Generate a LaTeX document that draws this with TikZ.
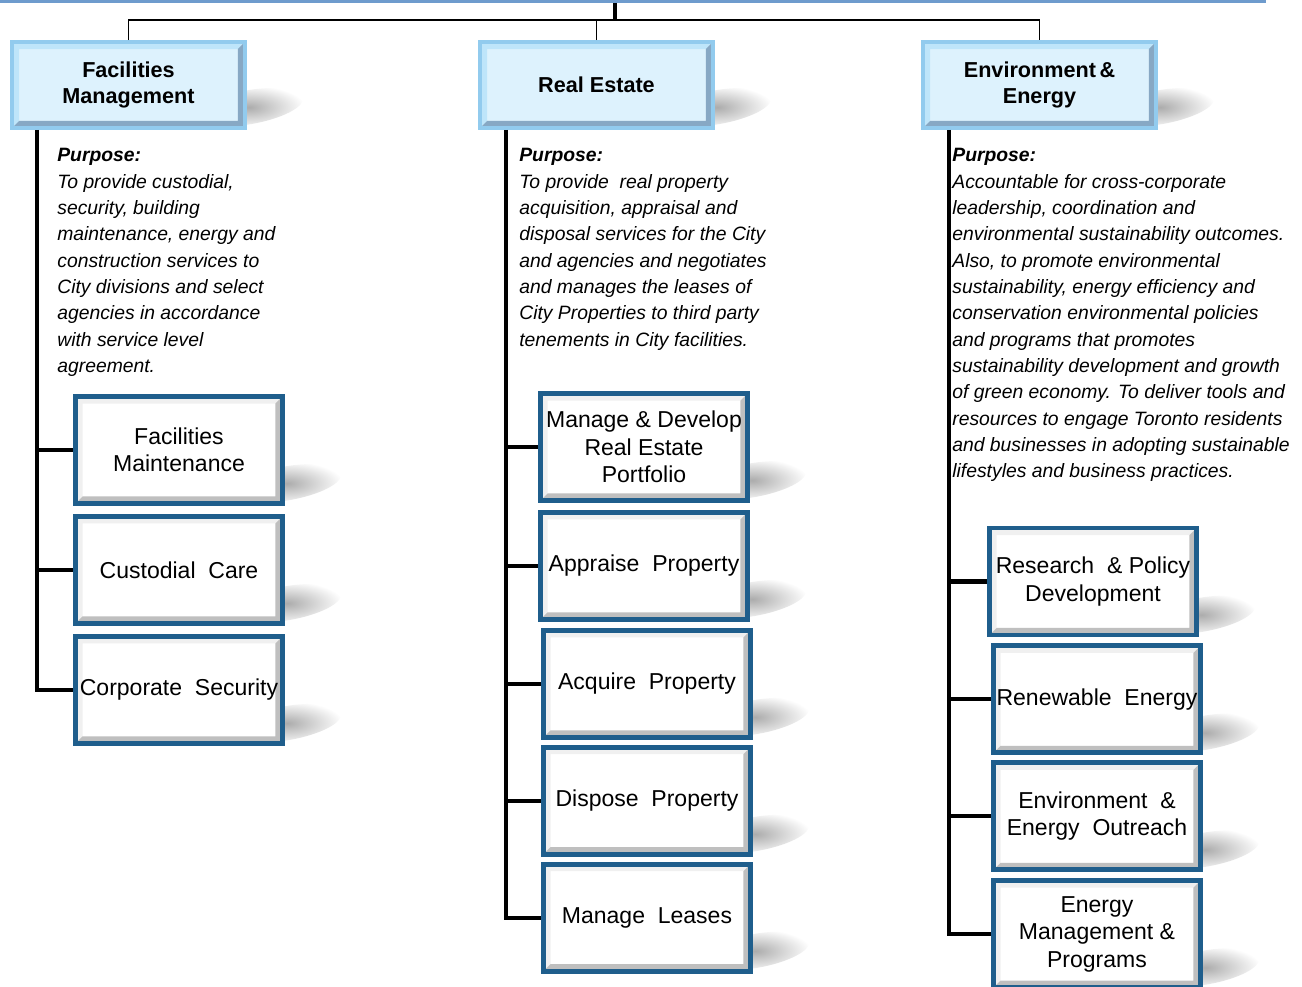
\documentclass[tikz,border=0pt]{standalone}
\usepackage{fontspec}
\setmainfont{Liberation Sans}
\usepackage{xcolor}
\usepackage{tikz}
\usetikzlibrary{positioning,calc,fadings,backgrounds}
\definecolor{frame_blue}{RGB}{31,94,140}
\definecolor{head_edge}{RGB}{146,203,238}
\definecolor{head_fill}{RGB}{221,242,253}
\definecolor{head_light}{RGB}{190,229,250}
\definecolor{head_dark}{RGB}{135,168,196}
\definecolor{top_edge}{RGB}{110,155,205}
\tikzfading[name=softshade, inner color=transparent!35, outer color=transparent!100]

\begin{document}
\begin{tikzpicture}[x=0.02cm,y=-0.02cm,
      bevel/.style 2 args={
         path picture={
            \fill[#1] (path picture bounding box.south west) |- (path picture bounding box.north east)
               -- ++(-4pt,-4pt) -| ([shift={(4pt,4pt)}]path picture bounding box.south west) -- cycle;
            \fill[#2] (path picture bounding box.south west) -| (path picture bounding box.north east)
               -- ++(-4pt,-4pt) |- ([shift={(4pt,4pt)}]path picture bounding box.south west) -- cycle;
         }},
      headbox/.style={
         rectangle,
         draw=head_edge,
         line width=2.2pt,
         fill=head_fill,
         bevel={head_light}{head_dark},
         minimum width=4.66cm,
         minimum height=1.72cm,
         inner sep=0pt,
         align=center,
         font=\fontsize{12.3}{14.8}\selectfont\bfseries},
      childbox/.style={
         rectangle,
         draw=frame_blue,
         line width=2.8pt,
         fill=white,
         bevel={gray!12}{gray!50},
         minimum width=4.14cm,
         minimum height=2.14cm,
         inner sep=0pt,
         align=center,
         font=\fontsize{13.1}{15.6}\selectfont},
      purpose/.style={
         anchor=north west,
         inner sep=0pt,
         align=left,
         font=\fontsize{11}{15}\selectfont\itshape},
      spine/.style={
         draw=black,
         line width=2.3pt},
      bus/.style={
         draw=black,
         line width=1.1pt},
      ]
      \useasboundingbox (0,0) rectangle (1302,987);

      % top box, only its lower edge is in the picture
      \node[headbox,draw=top_edge,minimum width=25.66cm] (top) at (622.5,-42) {};

      % divisions
      \node[headbox] (fm) at (128.5,85) {Facilities\\Management};
      \node[headbox] (re) at (596.5,85) {Real Estate};
      \node[headbox] (ee) at (1039.5,85) {Environment\,\&\\Energy};

      \coordinate (hub) at (615,20);
      \draw[bus,line width=1.8pt] (hub |- top.south) -- (hub);
      \draw[bus] (fm.north) |- (hub) -| (ee.north);
      \draw[bus] (re.north) |- (hub);

      % purpose texts
      \node[purpose] (fmtxt) at (57,148) {\textbf{Purpose:}\\
         To provide custodial,\\
         security, building\\
         maintenance, energy and\\
         construction services to\\
         City divisions and select\\
         agencies in accordance\\
         with service level\\
         agreement.};
      \node[purpose] (retxt) at (519,148) {\textbf{Purpose:}\\
         To provide \ real property\\
         acquisition, appraisal and\\
         disposal services for the City\\
         and agencies and negotiates\\
         and manages the leases of\\
         City Properties to third party\\
         tenements in City facilities.};
      \node[purpose] (eetxt) at (952,148) {\textbf{Purpose:}\\
         Accountable for cross-corporate\\
         leadership, coordination and\\
         environmental sustainability outcomes.\\
         Also, to promote environmental\\
         sustainability, energy efficiency and\\
         conservation environmental policies\\
         and programs that promotes\\
         sustainability development and growth\\
         of green economy. To deliver tools and\\
         resources to engage Toronto residents\\
         and businesses in adopting sustainable\\
         lifestyles and business practices.};

      % facilities management units
      \node[childbox] (fmmaint) at (179,450) {Facilities\\Maintenance};
      \node[childbox,below=0.16cm of fmmaint] (fmcare) {Custodial\ \ Care};
      \node[childbox,below=0.16cm of fmcare] (fmsec) {Corporate\ \ Security};

      % real estate units
      \node[childbox] (remanage) at (644,447) {Manage \& Develop\\Real Estate\\Portfolio};
      \node[childbox,below=0.14cm of remanage] (reappraise) {Appraise\ \ Property};
      \node[childbox,below=0.12cm of reappraise,xshift=0.06cm] (reacquire) {Acquire\ \ Property};
      \node[childbox,below=0.1cm of reacquire] (redispose) {Dispose\ \ Property};
      \node[childbox,below=0.1cm of redispose] (releases) {Manage\ \ Leases};

      % environment & energy units
      \node[childbox] (eeresearch) at (1093,581.5) {Research\ \ \& Policy\\Development};
      \node[childbox,below=0.12cm of eeresearch,xshift=0.08cm] (eerenew) {Renewable\ \ Energy};
      \node[childbox,below=0.1cm of eerenew] (eeoutreach) {Environment\ \ \&\\Energy\ \ Outreach};
      \node[childbox,below=0.12cm of eeoutreach] (eemanage) {Energy\\Management \&\\Programs};

      % spines
      \coordinate (fmspine) at (37,130);
      \coordinate (respine) at (506,130);
      \coordinate (eespine) at (949,130);
      \draw[spine] (fmspine |- fm.south) |- (fmsec.west);
      \draw[spine] (respine |- re.south) |- (releases.west);
      \draw[spine] (eespine |- ee.south) |- (eemanage.west);

      \foreach \s/\c in {% spine/unit
        fmspine/fmmaint,
        fmspine/fmcare,
        respine/remanage,
        respine/reappraise,
        respine/reacquire,
        respine/redispose,
        eespine/eeresearch,
        eespine/eerenew,
        eespine/eeoutreach}
        \draw[spine] (\s |- \c.west) -- (\c.west);

      % shadows
      \begin{scope}[on background layer]
        \fill[white] (0,0) rectangle (1302,987);
        \foreach \n in {top,fm,re,ee,fmmaint,fmcare,fmsec,remanage,reappraise,reacquire,
                        redispose,releases,eeresearch,eerenew,eeoutreach,eemanage}
          \fill[black!50, path fading=softshade, rotate around={10:($(\n.south east)+(6,-22)$)}]
            ($(\n.south east)+(6,-22)$) ellipse [x radius=1.1cm, y radius=0.34cm];
      \end{scope}
\end{tikzpicture}
\end{document}
